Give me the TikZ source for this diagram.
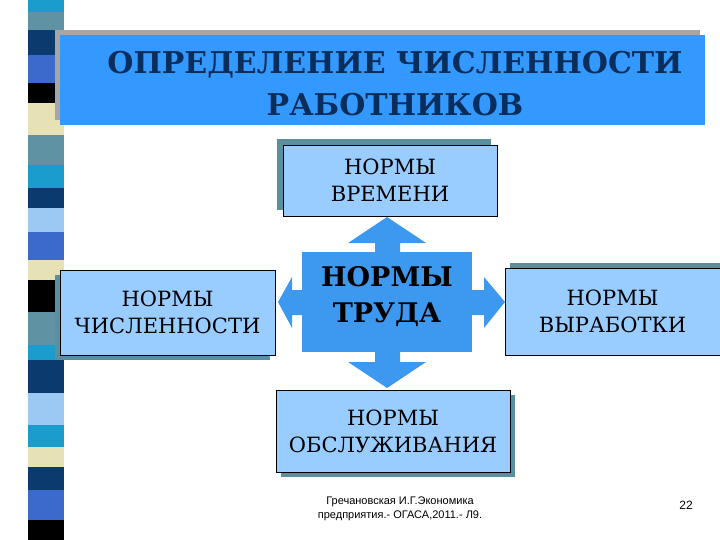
\documentclass[tikz,border=0pt]{standalone}
\usepackage{fontspec}
\newfontfamily\serfont{DejaVu Serif}
\newfontfamily\footfont{Liberation Sans}
\definecolor{cA}{HTML}{1A9CCC}\definecolor{cB}{HTML}{5F93A3}\definecolor{cC}{HTML}{0A3A6E}
\definecolor{cD}{HTML}{3A6ACC}\definecolor{cE}{HTML}{000000}\definecolor{cF}{HTML}{E6E2B6}
\definecolor{cG}{HTML}{9CC8F4}
\definecolor{titleblue}{HTML}{3399FF}\definecolor{titletext}{HTML}{0A2E5C}
\definecolor{boxfill}{HTML}{99CCFF}\definecolor{shadowc}{HTML}{5B8FA0}
\definecolor{centerblue}{HTML}{3D98F0}
\begin{document}
\begin{tikzpicture}[x=1pt,y=-1pt,
  lbox/.style={draw=black,line width=0.8pt,fill=boxfill,font=\serfont\fontsize{21}{27}\selectfont,align=center,inner sep=0pt},
  shad/.style={fill=shadowc}]
\useasboundingbox (0,0) rectangle (720,540);
% stripe
\foreach \a/\b/\c in {0/12/cA,12/30/cB,30/55/cC,55/83/cD,83/103/cE,103/135/cF,135/165/cB,165/188/cA,188/208/cC,208/232/cG,232/260/cD,260/280/cF,280/312/cE,312/345/cB,345/360/cA,360/393/cC,393/425/cG,425/447/cA,447/467/cF,467/490/cC,490/520/cD,520/540/cE}
  \fill[\c] (28,\a) rectangle (64,\b);
% title
\fill[gray!70] (55,30) rectangle (700,120);
\node[fill=titleblue,minimum width=645pt,minimum height=90pt,inner sep=0pt] (title) at (382.5,80) {};
\node[text=titletext,font=\serfont\bfseries\fontsize{30}{42}\selectfont,align=center] (tt) at (395,84) {ОПРЕДЕЛЕНИЕ ЧИСЛЕННОСТИ\\РАБОТНИКОВ};
% center shape with arrows
\fill[centerblue] (302,252) rectangle (472,352);
\fill[centerblue] (375,252) -- (375,243) -- (348,243) -- (387,217) -- (426,243) -- (400,243) -- (400,252) -- cycle;
\fill[centerblue] (375,352) -- (375,362) -- (348,362) -- (387,388) -- (426,362) -- (400,362) -- (400,352) -- cycle;
\fill[centerblue] (302,290) -- (292,290) -- (292,277) -- (278,302) -- (292,328) -- (292,315) -- (302,315) -- cycle;
\fill[centerblue] (472,290) -- (484,290) -- (484,277) -- (505,302) -- (484,328) -- (484,315) -- (472,315) -- cycle;
\node[font=\serfont\bfseries\fontsize{27}{36}\selectfont,align=center] (trud) at (387,297) {НОРМЫ\\ТРУДА};
% boxes
\fill[shad] (277,139) rectangle (491,210);
\node[lbox,minimum width=214pt,minimum height=71pt] (vrem) at (390,180.5) {НОРМЫ\\ВРЕМЕНИ};
\fill[shad] (55,275) rectangle (270,360);
\node[lbox,minimum width=215pt,minimum height=85pt] (chis) at (167.5,312.5) {НОРМЫ\\ЧИСЛЕННОСТИ};
\fill[shad] (510,263) rectangle (725,350);
\node[lbox,minimum width=215pt,minimum height=87pt] (vyr) at (612.5,311.5) {НОРМЫ\\ВЫРАБОТКИ};
\fill[shad] (281,395) rectangle (515,477);
\node[lbox,minimum width=234pt,minimum height=82pt] (obs) at (393,431) {НОРМЫ\\ОБСЛУЖИВАНИЯ};
% footer
\node[font=\footfont\fontsize{11}{14}\selectfont,align=center] (foot) at (400,509) {Гречановская И.Г.Экономика\\предприятия.- ОГАСА,2011.- Л9.};
\node[font=\footfont\fontsize{12}{14}\selectfont] (pg) at (686,505) {22};
\end{tikzpicture}
\end{document}
